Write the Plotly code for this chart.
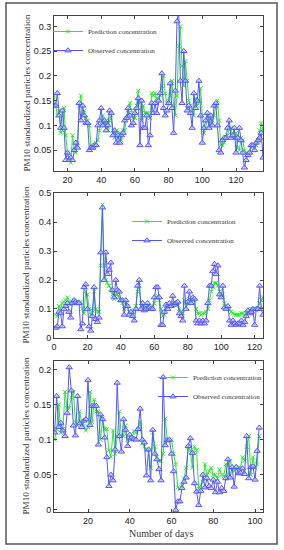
import plotly.graph_objects as go

# ---------------- data ----------------
days1 = list(range(12, 137))
obs1 = [0.14, 0.14, 0.165, 0.12, 0.095, 0.13, 0.095, 0.03, 0.045, 0.03,
        0.035, 0.03, 0.05, 0.065, 0.055, 0.145, 0.11, 0.14, 0.12, 0.105,
        0.105, 0.05, 0.055, 0.055, 0.06, 0.06, 0.1, 0.11, 0.135, 0.1,
        0.11, 0.09, 0.1, 0.13, 0.125, 0.08, 0.09, 0.065, 0.08, 0.065,
        0.08, 0.085, 0.11, 0.115, 0.135, 0.12, 0.1, 0.105, 0.125, 0.135,
        0.155, 0.06, 0.15, 0.095, 0.095, 0.12, 0.06, 0.08, 0.145, 0.125,
        0.145, 0.125, 0.15, 0.165, 0.205, 0.135, 0.12, 0.13, 0.145, 0.185,
        0.135, 0.085, 0.17, 0.31, 0.33, 0.19, 0.145, 0.25, 0.19, 0.13,
        0.14, 0.125, 0.095, 0.165, 0.135, 0.15, 0.19, 0.12, 0.065, 0.095,
        0.11, 0.125, 0.095, 0.12, 0.1, 0.14, 0.145, 0.1, 0.05, 0.045,
        0.07, 0.075, 0.075, 0.095, 0.11, 0.075, 0.08, 0.095, 0.045, 0.075,
        0.095, 0.07, 0.045, 0.015, 0.03, 0.04, 0.045, 0.06, 0.06, 0.05,
        0.065, 0.07, 0.075, 0.085, 0.035]
pred1 = [0.16, 0.14, 0.12, 0.13, 0.085, 0.09, 0.135, 0.08, 0.045, 0.03,
         0.025, 0.08, 0.05, 0.045, 0.065, 0.14, 0.16, 0.12, 0.13, 0.115,
         0.11, 0.1, 0.06, 0.055, 0.06, 0.065, 0.07, 0.09, 0.11, 0.12,
         0.1, 0.11, 0.09, 0.11, 0.12, 0.09, 0.075, 0.09, 0.075, 0.085,
         0.07, 0.09, 0.09, 0.115, 0.125, 0.145, 0.13, 0.115, 0.115, 0.14,
         0.17, 0.145, 0.11, 0.14, 0.125, 0.125, 0.125, 0.115, 0.165, 0.16,
         0.165, 0.155, 0.15, 0.16, 0.18, 0.2, 0.165, 0.145, 0.15, 0.16,
         0.19, 0.14, 0.12, 0.16, 0.26, 0.3, 0.22, 0.18, 0.23, 0.19,
         0.15, 0.14, 0.13, 0.12, 0.155, 0.14, 0.15, 0.175, 0.12, 0.085,
         0.095, 0.11, 0.115, 0.1, 0.11, 0.12, 0.14, 0.15, 0.11, 0.06,
         0.06, 0.065, 0.075, 0.08, 0.095, 0.095, 0.075, 0.075, 0.085, 0.055,
         0.05, 0.075, 0.07, 0.05, 0.045, 0.04, 0.045, 0.055, 0.06, 0.06,
         0.06, 0.07, 0.09, 0.105, 0.09]

days2 = list(range(1, 126))
obs2 = [0.035, 0.04, 0.09, 0.085, 0.04, 0.1, 0.11, 0.12, 0.09, 0.07,
        0.12, 0.13, 0.125, 0.12, 0.12, 0.03, 0.05, 0.175, 0.185, 0.1,
        0.04, 0.025, 0.075, 0.175, 0.065, 0.055, 0.07, 0.295, 0.45, 0.2,
        0.295, 0.22, 0.235, 0.26, 0.165, 0.14, 0.2, 0.165, 0.16, 0.13,
        0.13, 0.08, 0.13, 0.11, 0.08, 0.09, 0.075, 0.06, 0.1, 0.18,
        0.2, 0.1, 0.12, 0.095, 0.1, 0.12, 0.105, 0.1, 0.1, 0.14,
        0.175, 0.175, 0.14, 0.045, 0.045, 0.09, 0.115, 0.1, 0.12, 0.11,
        0.145, 0.115, 0.12, 0.125, 0.085, 0.075, 0.06, 0.18, 0.1, 0.125,
        0.16, 0.12, 0.14, 0.135, 0.06, 0.05, 0.06, 0.05, 0.06, 0.05,
        0.06, 0.12, 0.18, 0.18, 0.23, 0.255, 0.22, 0.25, 0.15, 0.14,
        0.18, 0.105, 0.1, 0.11, 0.06, 0.045, 0.06, 0.05, 0.045, 0.05,
        0.05, 0.06, 0.045, 0.055, 0.075, 0.095, 0.085, 0.09, 0.1, 0.045,
        0.1, 0.1, 0.18, 0.1, 0.08]
pred2 = [0.08, 0.075, 0.11, 0.1, 0.12, 0.125, 0.13, 0.14, 0.125, 0.115,
         0.12, 0.13, 0.125, 0.125, 0.12, 0.125, 0.1, 0.085, 0.16, 0.15,
         0.1, 0.08, 0.095, 0.16, 0.1, 0.09, 0.09, 0.25, 0.46, 0.25,
         0.2, 0.19, 0.18, 0.17, 0.15, 0.135, 0.15, 0.15, 0.14, 0.13,
         0.12, 0.1, 0.115, 0.11, 0.09, 0.085, 0.09, 0.095, 0.11, 0.16,
         0.18, 0.12, 0.11, 0.11, 0.105, 0.11, 0.1, 0.1, 0.11, 0.12,
         0.14, 0.145, 0.13, 0.1, 0.075, 0.08, 0.1, 0.11, 0.11, 0.115,
         0.12, 0.12, 0.115, 0.115, 0.1, 0.09, 0.085, 0.13, 0.12, 0.12,
         0.135, 0.125, 0.13, 0.13, 0.1, 0.085, 0.085, 0.08, 0.085, 0.085,
         0.09, 0.1, 0.13, 0.16, 0.175, 0.19, 0.19, 0.18, 0.16, 0.14,
         0.15, 0.12, 0.11, 0.1, 0.1, 0.09, 0.085, 0.08, 0.08, 0.08,
         0.08, 0.085, 0.085, 0.08, 0.085, 0.09, 0.095, 0.1, 0.1, 0.1,
         0.095, 0.1, 0.12, 0.13, 0.14]

obs3 = [0.11, 0.162, 0.118, 0.124, 0.113, 0.105, 0.138, 0.203, 0.17, 0.12,
        0.106, 0.162, 0.123, 0.118, 0.127, 0.129, 0.185, 0.121, 0.148, 0.148,
        0.148, 0.093, 0.136, 0.129, 0.103, 0.075, 0.034, 0.05, 0.042, 0.086,
        0.181, 0.105, 0.083, 0.129, 0.114, 0.091, 0.107, 0.103, 0.101, 0.1,
        0.115, 0.144, 0.1, 0.096, 0.049, 0.086, 0.042, 0.114, 0.08, 0.072,
        0.058, 0.042, 0.189, 0.092, 0.099, 0.1, 0.08, 0.055, 0.0, 0.012,
        0.012, 0.031, 0.04, 0.046, 0.091, 0.102, 0.081, 0.038, 0.026, 0.007,
        0.027, 0.05, 0.032, 0.045, 0.034, 0.031, 0.043, 0.025, 0.04, 0.025,
        0.031, 0.027, 0.045, 0.072, 0.046, 0.061, 0.033, 0.061, 0.052, 0.053,
        0.059, 0.051, 0.105, 0.045, 0.061, 0.062, 0.043, 0.084, 0.117]
pred3 = [0.1, 0.115, 0.15, 0.11, 0.115, 0.168, 0.145, 0.145, 0.16, 0.168,
         0.125, 0.12, 0.14, 0.125, 0.12, 0.113, 0.118, 0.168, 0.125, 0.157,
         0.14, 0.14, 0.1, 0.13, 0.115, 0.115, 0.085, 0.075, 0.113, 0.08,
         0.105, 0.14, 0.105, 0.105, 0.12, 0.1, 0.1, 0.1, 0.112, 0.11,
         0.115, 0.125, 0.095, 0.09, 0.085, 0.085, 0.06, 0.11, 0.09, 0.075,
         0.07, 0.07, 0.08, 0.13, 0.1, 0.1, 0.1, 0.08, 0.065, 0.032,
         0.03, 0.035, 0.045, 0.06, 0.09, 0.085, 0.06, 0.09, 0.085, 0.03,
         0.035, 0.04, 0.065, 0.05, 0.055, 0.06, 0.05, 0.05, 0.045, 0.058,
         0.05, 0.048, 0.065, 0.045, 0.07, 0.06, 0.055, 0.06, 0.06, 0.06,
         0.075, 0.07, 0.09, 0.105, 0.05, 0.075, 0.06, 0.065, 0.105]
days3 = list(range(4, 4 + len(obs3)))

panels = [
    dict(x=days1, obs=obs1, pred=pred1, xr=[12, 136], yr=[0.008, 0.321],
         xt=[20, 40, 60, 80, 100, 120], yt=[0.05, 0.1, 0.15, 0.2, 0.25, 0.3],
         dom=[0.689, 0.971], leg=(48 / 284, 1 - 17 / 550)),
    dict(x=days2, obs=obs2, pred=pred2, xr=[0, 125], yr=[0, 0.5],
         xt=[0, 20, 40, 60, 80, 100, 120], yt=[0, 0.1, 0.2, 0.3, 0.4, 0.5],
         dom=[0.3855, 0.649], leg=(127 / 284, 1 - 207 / 550)),
    dict(x=days3, obs=obs3, pred=pred3, xr=[3.7, 103.8], yr=[-0.003, 0.212],
         xt=[20, 40, 60, 80, 100], yt=[0, 0.05, 0.1, 0.15, 0.2],
         dom=[0.069, 0.3436], leg=(153 / 284, 1 - 363 / 550)),
]

GREEN = "rgb(40,235,40)"
BLUE = "rgb(85,85,255)"
SERIF = "Liberation Serif, Times New Roman, serif"
SANS = "Liberation Sans Narrow, Liberation Sans, Arial, sans-serif"

fig = go.Figure()
layout = {}
for i, p in enumerate(panels, start=1):
    sfx = "" if i == 1 else str(i)
    leg = "legend" if i == 1 else f"legend{i}"
    fig.add_trace(go.Scatter(
        x=p["x"], y=p["pred"], mode="lines+markers", name="Prediction concentration",
        line=dict(color=GREEN, width=1),
        marker=dict(symbol="x-thin-open", size=4, color=GREEN, line=dict(width=1, color=GREEN)),
        xaxis=f"x{sfx}", yaxis=f"y{sfx}", legend=leg, cliponaxis=True))
    fig.add_trace(go.Scatter(
        x=p["x"], y=p["obs"], mode="lines+markers", name="Observed concentration",
        line=dict(color=BLUE, width=1),
        marker=dict(symbol="triangle-up", size=5.5, color="rgba(200,200,255,0.6)",
                    line=dict(width=1, color=BLUE)),
        xaxis=f"x{sfx}", yaxis=f"y{sfx}", legend=leg, cliponaxis=True))
    axcommon = dict(showgrid=False, zeroline=False, showline=True, mirror="ticks",
                    linecolor="#444", linewidth=1, ticks="inside", ticklen=3,
                    tickcolor="#444", automargin=False,
                    tickfont=dict(family=SANS, size=9, color="#222"))
    layout[f"xaxis{sfx}"] = dict(domain=[0.190, 0.926], range=p["xr"], anchor=f"y{sfx}",
                                 tickvals=p["xt"], **axcommon)
    layout[f"yaxis{sfx}"] = dict(domain=p["dom"], range=p["yr"], anchor=f"x{sfx}",
                                 tickvals=p["yt"], **axcommon)
    layout[leg] = dict(x=p["leg"][0], y=p["leg"][1], xanchor="left", yanchor="top",
                       bgcolor="rgba(0,0,0,0)", borderwidth=0, tracegroupgap=0,
                       itemwidth=30,
                       font=dict(family=SERIF, size=7, color="#333"))
    fig.add_annotation(text="PM10 standardized particles concentration",
                       x=26 / 284, y=sum(p["dom"]) / 2, xref="paper", yref="paper",
                       xanchor="center", yanchor="middle",
                       textangle=-90, showarrow=False,
                       font=dict(family=SERIF, size=9.2, color="#333"))

fig.add_annotation(text="Number of days", x=161 / 284, y=1 - 533 / 550,
                   xref="paper", yref="paper", xanchor="center", yanchor="middle",
                   showarrow=False,
                   font=dict(family=SERIF, size=10, color="#333"))

fig.add_shape(type="rect", xref="paper", yref="paper",
              x0=6 / 284, x1=277 / 284, y0=1 - 544 / 550, y1=1 - 3 / 550,
              line=dict(color="#555", width=1.5))

fig.update_layout(width=284, height=550,
                  margin=dict(l=0, r=0, t=0, b=0, pad=0, autoexpand=False),
                  paper_bgcolor="white", plot_bgcolor="white", **layout)
fig.write_html("out.html", config={"displayModeBar": False},
               post_script="document.body.style.margin='0';"
                           "document.body.style.overflow='hidden';")
